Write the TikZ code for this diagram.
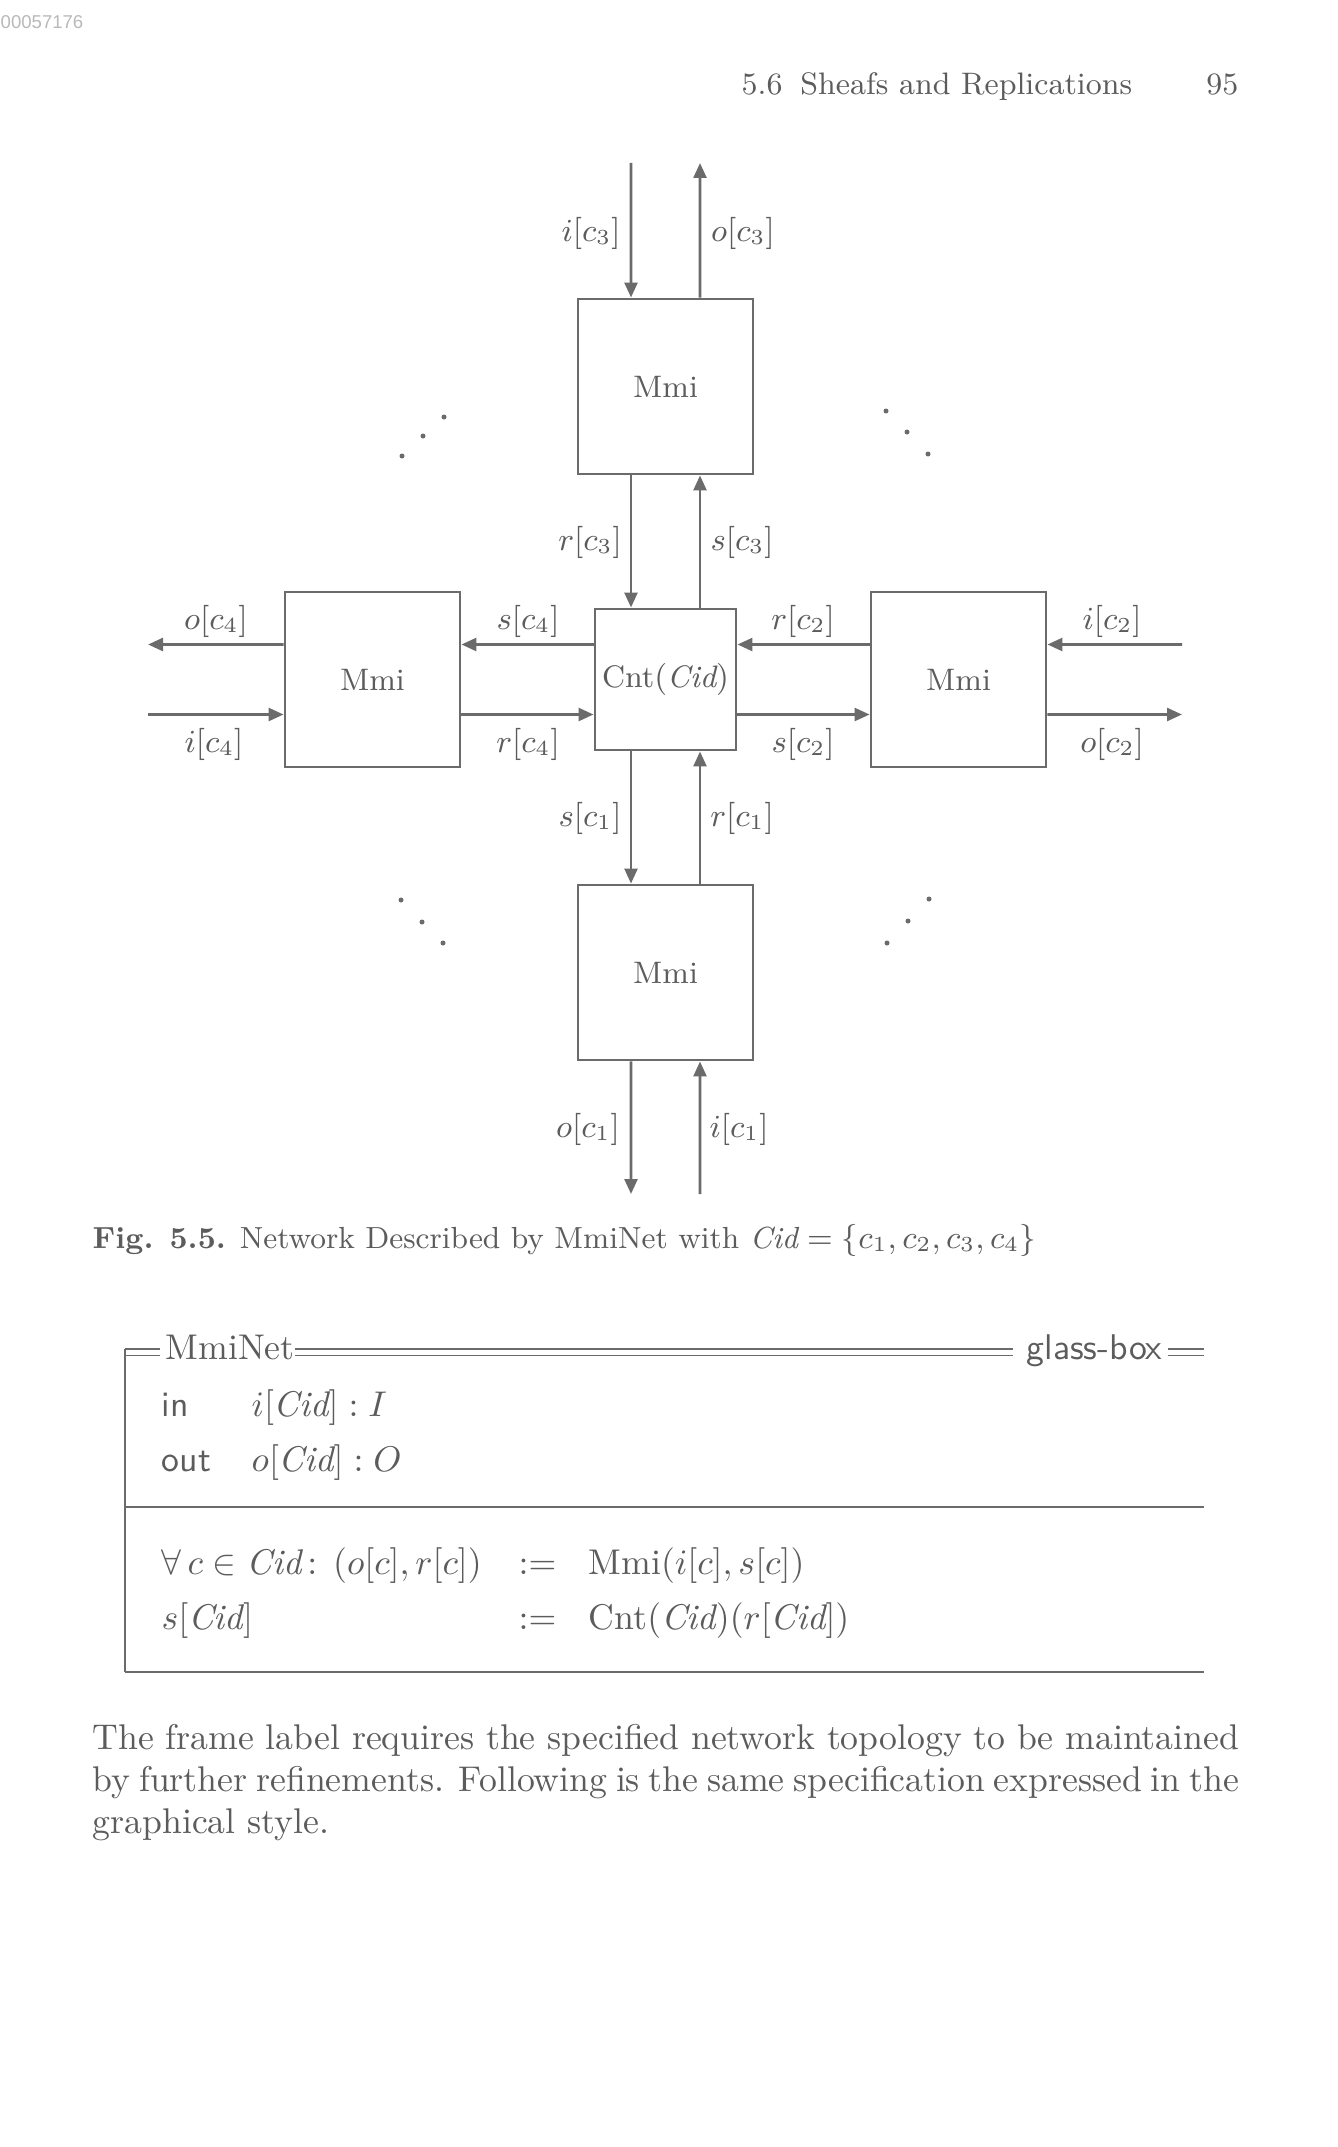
\documentclass[tikz,border=0pt]{standalone}
\usepackage{fontspec}
\newfontfamily\stampfont{Liberation Sans}
\usetikzlibrary{arrows.meta}
\definecolor{ink}{gray}{0.36}
\definecolor{linec}{gray}{0.42}
\tikzset{
  mmibox/.style={draw=linec, line width=0.8pt, minimum width=49pt, minimum height=49pt,
    inner sep=0pt, text=ink, font=\fontsize{8.7}{10}\selectfont},
  cntbox/.style={mmibox, minimum width=39.5pt, minimum height=39.5pt},
  arr/.style={draw=linec, line width=0.8pt, -{Triangle[length=4.2pt,width=3.6pt]}},
  lbl/.style={text=ink, inner sep=0pt, font=\fontsize{8.7}{10}\selectfont},
  ddot/.style={fill=linec, circle, inner sep=0pt, minimum size=1.4pt},
  zrule/.style={draw=linec, line width=0.55pt},
  txt/.style={text=ink, inner sep=0pt, anchor=base west, font=\fontsize{10}{12}\selectfont},
}
\begin{document}
\begin{tikzpicture}[x=0.28pt,y=-0.28pt]
\fill[white] (0,0) rectangle (1337,2147);
\useasboundingbox (0,0) rectangle (1337,2147);

% running head
\node[anchor=base west, inner sep=0pt, text=gray!55, font=\stampfont\fontsize{5.2}{6}\selectfont] (stamp) at (0,29) {00057176};
\node[txt, font=\fontsize{8.7}{11}\selectfont] (rh) at (741,95) {5.6\hspace{5pt}Sheafs and Replications};
\node[txt, anchor=base east, font=\fontsize{8.7}{11}\selectfont] (pg) at (1239,95) {95};

% boxes
\node[mmibox] (top) at (665.5,386.5) {Mmi};
\node[cntbox] (cnt) at (665.5,679.5) {Cnt$(\mathit{Cid})$};
\node[mmibox] (lft) at (372.5,679.5) {Mmi};
\node[mmibox] (rgt) at (958.5,679.5) {Mmi};
\node[mmibox] (bot) at (665.5,972.5) {Mmi};

% free ends
\coordinate (topIn) at (631,163);
\coordinate (topOut) at (700,163);
\coordinate (botOut) at (631,1194);
\coordinate (botIn) at (700,1194);
\coordinate (lftOut) at (148,644.5);
\coordinate (lftIn) at (148,714.5);
\coordinate (rgtIn) at (1182,644.5);
\coordinate (rgtOut) at (1182,714.5);

% connectors
\draw[arr] (topIn) -- ([xshift=-9.66pt]top.north);
\draw[arr] ([xshift=9.66pt]top.north) -- (topOut);
\draw[arr] ([xshift=-9.66pt]top.south) -- ([xshift=-9.66pt]cnt.north);
\draw[arr] ([xshift=9.66pt]cnt.north) -- ([xshift=9.66pt]top.south);

\draw[arr] ([yshift=9.8pt]lft.west) -- (lftOut);
\draw[arr] (lftIn) -- ([yshift=-9.8pt]lft.west);
\draw[arr] ([yshift=9.8pt]cnt.west) -- ([yshift=9.8pt]lft.east);
\draw[arr] ([yshift=-9.8pt]lft.east) -- ([yshift=-9.8pt]cnt.west);

\draw[arr] ([yshift=9.8pt]rgt.west) -- ([yshift=9.8pt]cnt.east);
\draw[arr] ([yshift=-9.8pt]cnt.east) -- ([yshift=-9.8pt]rgt.west);
\draw[arr] (rgtIn) -- ([yshift=9.8pt]rgt.east);
\draw[arr] ([yshift=-9.8pt]rgt.east) -- (rgtOut);

\draw[arr] ([xshift=-9.66pt]cnt.south) -- ([xshift=-9.66pt]bot.north);
\draw[arr] ([xshift=9.66pt]bot.north) -- ([xshift=9.66pt]cnt.south);
\draw[arr] ([xshift=-9.66pt]bot.south) -- (botOut);
\draw[arr] (botIn) -- ([xshift=9.66pt]bot.south);

% labels
\node[lbl] (l-ic3) at (591,233) {$i[c_3]$};
\node[lbl] (l-oc3) at (743,233) {$o[c_3]$};
\node[lbl] (l-rc3) at (590,542) {$r[c_3]$};
\node[lbl] (l-sc3) at (742,542) {$s[c_3]$};
\node[lbl] (l-oc4) at (216,621) {$o[c_4]$};
\node[lbl] (l-sc4) at (528,621) {$s[c_4]$};
\node[lbl] (l-rc2) at (803,621) {$r[c_2]$};
\node[lbl] (l-ic2) at (1112,621) {$i[c_2]$};
\node[lbl] (l-ic4) at (214,744) {$i[c_4]$};
\node[lbl] (l-rc4) at (528,744) {$r[c_4]$};
\node[lbl] (l-sc2) at (803,744) {$s[c_2]$};
\node[lbl] (l-oc2) at (1112,744) {$o[c_2]$};
\node[lbl] (l-sc1) at (590,818) {$s[c_1]$};
\node[lbl] (l-rc1) at (742,818) {$r[c_1]$};
\node[lbl] (l-oc1) at (588,1129) {$o[c_1]$};
\node[lbl] (l-ic1) at (739,1129) {$i[c_1]$};

% dots
\node[ddot] (d1) at (444,417) {}; \node[ddot] (d2) at (423,436) {}; \node[ddot] (d3) at (402,456) {};
\node[ddot] (d4) at (886,411) {}; \node[ddot] (d5) at (907,432) {}; \node[ddot] (d6) at (928,454) {};
\node[ddot] (d7) at (401,900) {}; \node[ddot] (d8) at (422,922) {}; \node[ddot] (d9) at (443,943) {};
\node[ddot] (d10) at (929,899) {}; \node[ddot] (d11) at (908,921) {}; \node[ddot] (d12) at (887,943) {};

% caption
\node[txt, font=\fontsize{8.55}{11}\selectfont] (cap) at (92,1248)
  {\textbf{Fig. 5.5.} Network Described by MmiNet with $\mathit{Cid} = \{c_1, c_2, c_3, c_4\}$};

% schema box
\draw[zrule] (125,1349) -- (160,1349);
\draw[zrule] (125,1355.5) -- (160,1355.5);
\draw[zrule] (295,1349) -- (1013,1349);
\draw[zrule] (295,1355.5) -- (1013,1355.5);
\draw[zrule] (1168,1349) -- (1204,1349);
\draw[zrule] (1168,1355.5) -- (1204,1355.5);
\draw[zrule] (125,1349) -- (125,1672);
\draw[zrule] (125,1507) -- (1204,1507);
\draw[zrule] (125,1672) -- (1204,1672);

\node[txt] (zname) at (165,1359) {MmiNet};
\node[txt, font=\sffamily\fontsize{10}{12}\selectfont] (zlab) at (1026,1359) {glass-box};
\node[txt, font=\sffamily\fontsize{10}{12}\selectfont] (kin) at (161,1416) {in};
\node[txt] (vin) at (251,1416) {$i[\mathit{Cid}] : I$};
\node[txt, font=\sffamily\fontsize{10}{12}\selectfont] (kout) at (161,1471) {out};
\node[txt] (vout) at (251,1471) {$o[\mathit{Cid}] : O$};
\node[txt] (e1l) at (161,1574) {$\forall\, c \in \mathit{Cid}\,{:}\;\,(o[c], r[c])$};
\node[txt] (e1m) at (518,1574) {$:=$};
\node[txt] (e1r) at (588,1574) {Mmi$(i[c], s[c])$};
\node[txt] (e2l) at (161,1629) {$s[\mathit{Cid}]$};
\node[txt] (e2m) at (518,1629) {$:=$};
\node[txt] (e2r) at (588,1629) {Cnt$(\mathit{Cid})(r[\mathit{Cid}])$};

% paragraph
\node[txt] (p1) at (92,1749) {\makebox[321pt][s]{The frame label requires the specified network topology to be maintained}};
\node[txt] (p2) at (92,1791) {\makebox[321pt][s]{by further refinements. Following is the same specification expressed in the}};
\node[txt] (p3) at (92,1833) {graphical style.};
\end{tikzpicture}
\end{document}
